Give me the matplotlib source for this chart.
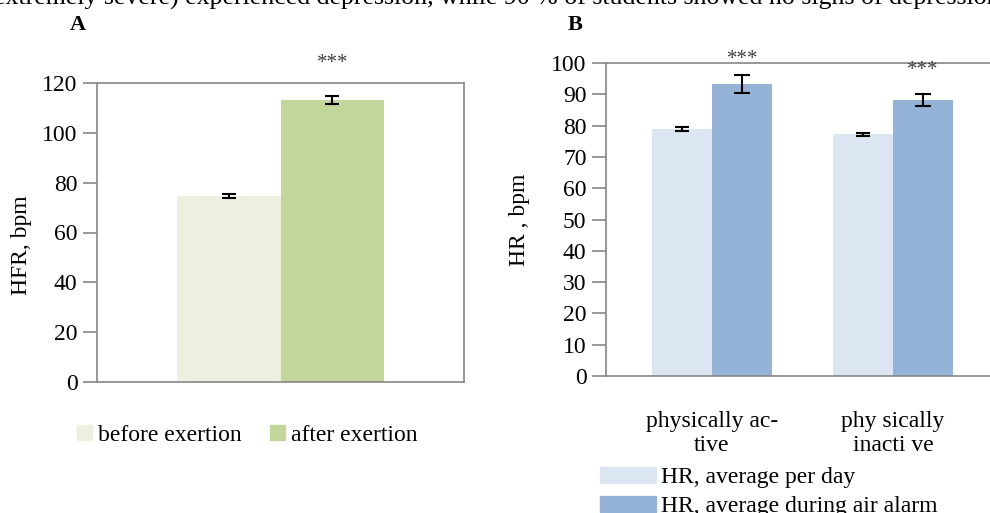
import matplotlib.pyplot as plt
import matplotlib.patches as mpatches

plt.rcParams['font.family'] = ['Liberation Serif', 'DejaVu Serif']

# panel A data
a_labels = ["before exertion", "after exertion"]
a_values = [74.7, 113.2]
a_err = [0.8, 1.6]
a_ticks = [0, 20, 40, 60, 80, 100, 120]
a_star_y = 128

# panel B data
b_groups = ["physically ac-\ntive", "phy sically\ninacti ve"]
b_series = ["HR, average per day", "HR, average during air alarm"]
b_day = [78.9, 77.2]
b_day_err = [0.5, 0.5]
b_alarm = [93.3, 88.2]
b_alarm_err = [3.0, 1.8]
b_star_y = [101, 97.5]
b_ticks = list(range(0, 101, 10))

top_text = "extremely severe) experienced depression, while 90 % of students showed no signs of depression"

green_light = "#EBF1DE"
green_dark = "#C3D69B"
blue_light = "#DCE6F2"
blue_dark = "#95B3D7"
grid_gray = "#868686"
fs = 17

fig = plt.figure(figsize=(9.9, 5.13), dpi=100)

# cut-off text line from the page
fig.text(-0.006, 1 - 5 / 513, top_text, fontsize=18.6, ha="left", va="baseline")
fig.text(78 / 990, 1 - 25 / 513, "A", fontsize=16, fontweight="bold", ha="center", va="center")
fig.text(575 / 990, 1 - 25 / 513, "B", fontsize=16, fontweight="bold", ha="center", va="center")

# ---- panel A ----
axA = fig.add_axes([97 / 990, 1 - 382 / 513, 367 / 990, 299 / 513])
bw = 0.283
xa = [-bw / 2, bw / 2]
colsA = [green_light, green_dark]
for x, v, e, c, lab in zip(xa, a_values, a_err, colsA, a_labels):
    axA.bar(x, v, width=bw, color=c, label=lab, zorder=2)
    axA.errorbar(x, v, yerr=e, fmt="none", ecolor="black", elinewidth=1.5,
                 capsize=5, capthick=1.5, zorder=3)
axA.text(xa[1], a_star_y, "***", ha="center", va="center",
         fontsize=15, color="#404040", clip_on=False)
axA.set_xlim(-0.5, 0.5)
axA.set_ylim(0, 120)
axA.set_yticks(a_ticks)
axA.set_xticks([])
axA.tick_params(axis="y", length=10, color=grid_gray, width=1.2, labelsize=fs, pad=4)
for s in axA.spines.values():
    s.set_color(grid_gray)
    s.set_linewidth(1.2)
axA.set_ylabel("HFR, bpm", fontsize=fs)
axA.yaxis.set_label_coords(-0.176, 0.458)
hA = [mpatches.Patch(color=c) for c in colsA]
axA.legend(hA, a_labels, loc="center left", bbox_to_anchor=(-0.055, -0.178), ncol=2,
           frameon=False, fontsize=fs, handlelength=0.65, handleheight=0.65,
           handletextpad=0.25, columnspacing=1.2, borderaxespad=0, borderpad=0)

# ---- panel B ----
axB = fig.add_axes([606 / 990, 1 - 376 / 513, 393 / 990, 313 / 513])
bwB = 0.334
xg = list(range(len(b_groups)))
axB.bar([x - bwB / 2 for x in xg], b_day, width=bwB, color=blue_light, zorder=2)
axB.bar([x + bwB / 2 for x in xg], b_alarm, width=bwB, color=blue_dark, zorder=2)
axB.errorbar([x - bwB / 2 for x in xg], b_day, yerr=b_day_err, fmt="none", ecolor="black",
             elinewidth=1.5, capsize=5, capthick=1.5, zorder=3)
axB.errorbar([x + bwB / 2 for x in xg], b_alarm, yerr=b_alarm_err, fmt="none", ecolor="black",
             elinewidth=1.5, capsize=6, capthick=1.5, zorder=3)
for x, sy in zip(xg, b_star_y):
    axB.text(x + bwB / 2, sy, "***", ha="center", va="center",
             fontsize=15, color="#404040", zorder=4, clip_on=False)
axB.set_xlim(-0.586, 1.586)
axB.set_ylim(0, 100)
axB.set_yticks(b_ticks)
axB.set_xticks(xg)
axB.set_xticklabels(b_groups, fontsize=fs, linespacing=1.2)
axB.tick_params(axis="x", length=0, pad=25)
axB.tick_params(axis="y", length=10, color=grid_gray, width=1.2, labelsize=fs, pad=4)
for s in axB.spines.values():
    s.set_color(grid_gray)
    s.set_linewidth(1.2)
axB.set_ylabel("HR , bpm", fontsize=fs)
axB.yaxis.set_label_coords(-0.193, 0.498)
hB = [mpatches.Patch(color=blue_light), mpatches.Patch(color=blue_dark)]
axB.legend(hB, b_series, loc="upper left", bbox_to_anchor=(-0.016, -0.292), ncol=1,
           frameon=False, fontsize=fs, handlelength=2.4, handleheight=0.62,
           handletextpad=0.2, labelspacing=0.33, borderaxespad=0, borderpad=0)

fig.savefig("out.png", dpi=100)
